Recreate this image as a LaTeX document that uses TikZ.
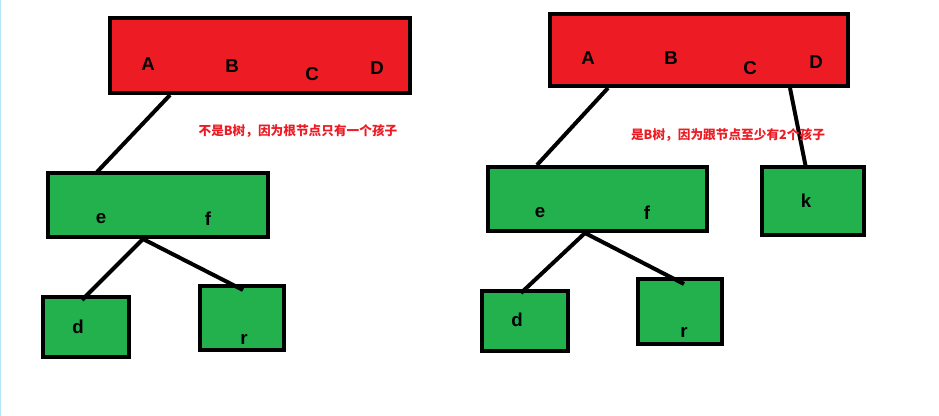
\documentclass[tikz,border=0pt]{standalone}
\usepackage{fontspec}
\setmainfont{Liberation Sans}
\newfontfamily\cjk{Noto Sans CJK SC}
\definecolor{rbox}{RGB}{237,28,36}
\definecolor{gbox}{RGB}{34,177,76}
\begin{document}
\begin{tikzpicture}[x=0.75pt,y=-0.75pt,
  bx/.style={draw=black,line width=3pt},
  lbl/.style={font=\bfseries\fontsize{14}{16}\selectfont},
  edge/.style={line width=3pt},
  note/.style={text=rbox,font=\cjk\bfseries\fontsize{9.5}{11}\selectfont}]
\useasboundingbox[fill=white] (0,0) rectangle (939,416);
\draw[cyan!30,line width=1pt] (0.5,0) -- (0.5,416);
% left tree
\draw[bx,fill=rbox] (110,18) rectangle (410,93);
\draw[bx,fill=gbox] (48,173) rectangle (268,237);
\draw[bx,fill=gbox] (43,297) rectangle (129,357);
\draw[bx,fill=gbox] (200,286) rectangle (284,350);
\node[lbl] (lA) at (148,64) {A};
\node[lbl] (lB) at (232,66) {B};
\node[lbl] (lC) at (312,74) {C};
\node[lbl] (lD) at (377,68) {D};
\node[lbl] (le) at (101,219) {e};
\node[lbl] (lf) at (208,219) {f};
\node[lbl] (ld) at (78,327) {d};
\node[lbl] (lr) at (244,339) {r};
\coordinate (l1) at (170,95); \coordinate (l2) at (97,172);
\coordinate (l3) at (143,239); \coordinate (l4) at (82,300); \coordinate (l5) at (243,290);
\draw[edge] (l1) -- (l2);
\draw[edge] (l3) -- (l4);
\draw[edge] (l3) -- (l5);
\node[note] (ln) at (298,131) {不是B树，因为根节点只有一个孩子};
% right tree
\draw[bx,fill=rbox] (550,14) rectangle (848,86);
\draw[bx,fill=gbox] (488,167) rectangle (707,231);
\draw[bx,fill=gbox] (762,167) rectangle (864,235);
\draw[bx,fill=gbox] (482,291) rectangle (568,351);
\draw[bx,fill=gbox] (638,279) rectangle (722,344);
\node[lbl] (rA) at (588,58) {A};
\node[lbl] (rB) at (671,58) {B};
\node[lbl] (rC) at (750,68) {C};
\node[lbl] (rD) at (816,62) {D};
\node[lbl] (re) at (540,213) {e};
\node[lbl] (rf) at (647,213) {f};
\node[lbl] (rk) at (806,201) {k};
\node[lbl] (rd) at (517,320) {d};
\node[lbl] (rr) at (684,332) {r};
\coordinate (r1) at (608,88); \coordinate (r2) at (537,165);
\coordinate (r6) at (790,88); \coordinate (r7) at (806,168);
\coordinate (r3) at (585,233); \coordinate (r4) at (521,293); \coordinate (r5) at (684,284);
\draw[edge] (r1) -- (r2);
\draw[edge] (r6) -- (r7);
\draw[edge] (r3) -- (r4);
\draw[edge] (r3) -- (r5);
\node[note] (rn) at (728,135) {是B树，因为跟节点至少有2个孩子};
\end{tikzpicture}
\end{document}
